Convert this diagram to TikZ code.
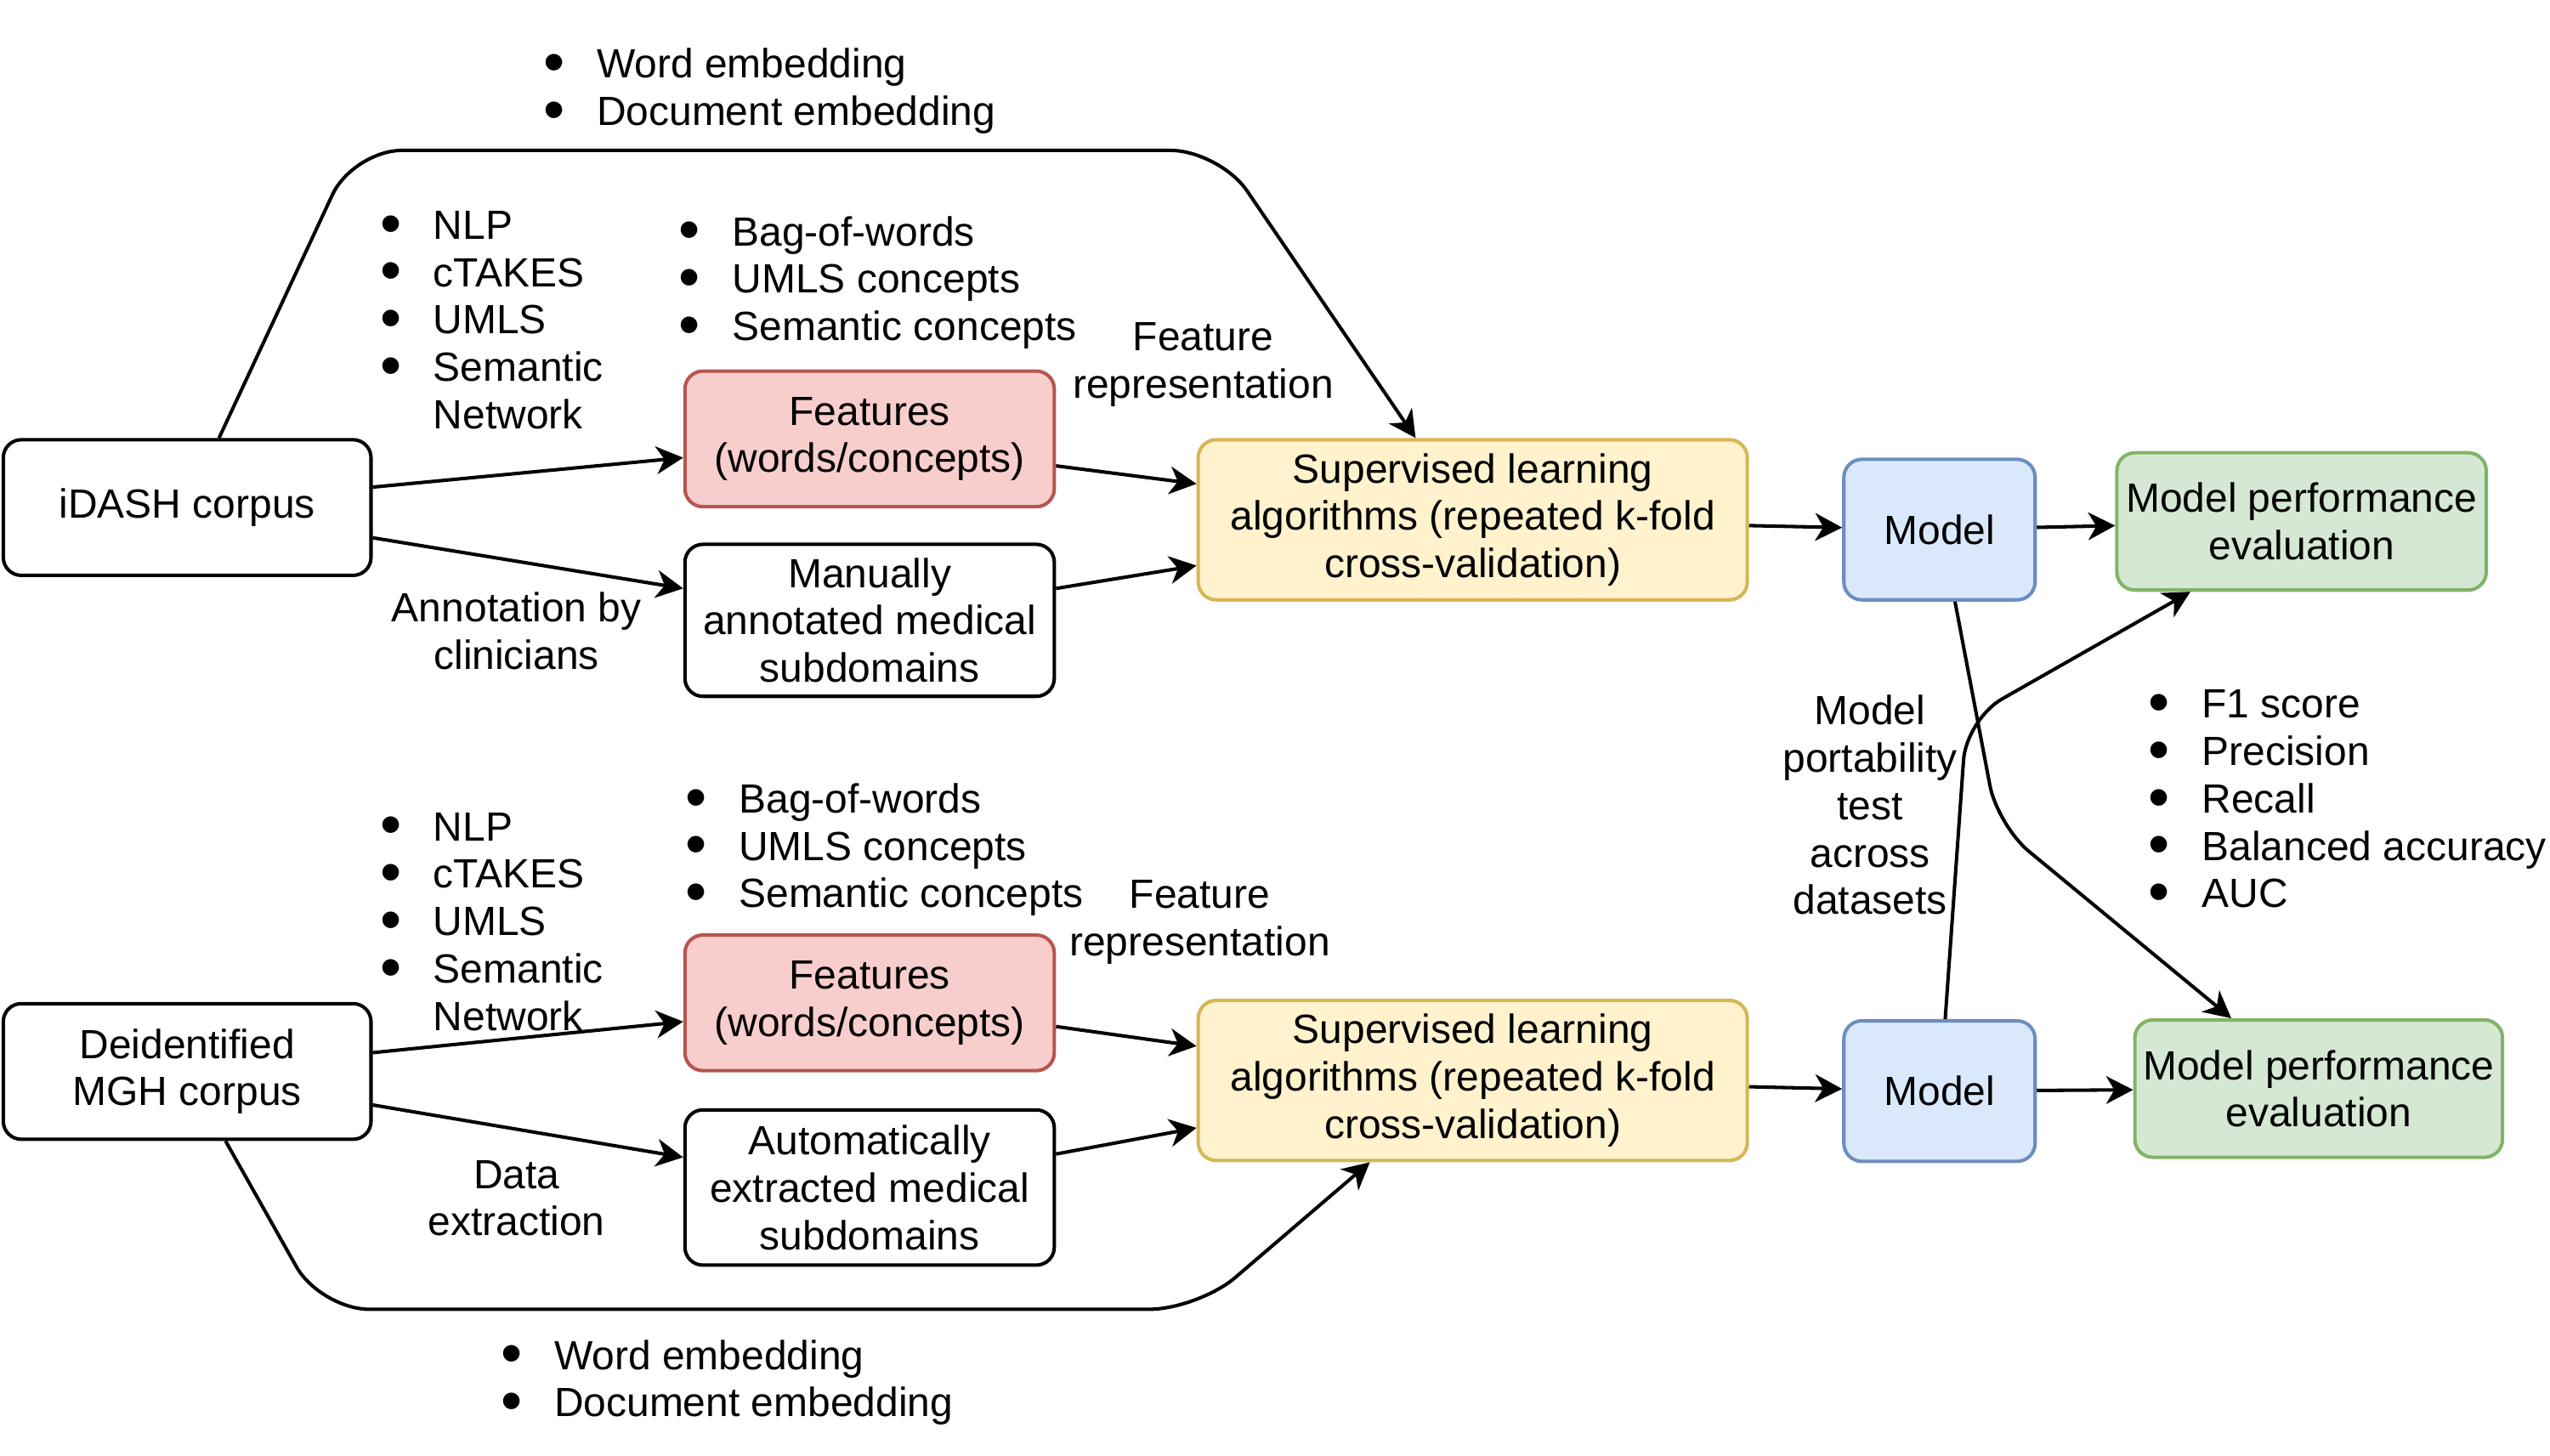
\documentclass[tikz,border=0pt]{standalone}
\usepackage{fontspec}
\setmainfont{Liberation Sans}
\usetikzlibrary{arrows.meta}
\definecolor{redfill}{HTML}{F8CECC}
\definecolor{redline}{HTML}{B85450}
\definecolor{yellowfill}{HTML}{FFF2CC}
\definecolor{yellowline}{HTML}{D6B656}
\definecolor{bluefill}{HTML}{DAE8FC}
\definecolor{blueline}{HTML}{6C8EBF}
\definecolor{greenfill}{HTML}{D5E8D4}
\definecolor{greenline}{HTML}{82B366}
\newcommand{\bul}{\raisebox{-0.12em}{\scalebox{1.5}{\textbullet}}}
\begin{document}
\begin{tikzpicture}[x=0.02cm,y=-0.02cm,
  line width=1.2pt,>={Stealth[length=3.3mm,width=3.4mm,inset=1mm]},
  font=\fontsize{14.2}{16.5}\selectfont,
  main node/.style={rectangle,rounded corners=0.22cm,draw,align=center,inner sep=1pt,minimum width=4.5cm,minimum height=1.66cm},
  feat node/.style={main node,draw=redline,fill=redfill,minimum width=4.52cm},
  learn node/.style={main node,draw=yellowline,fill=yellowfill,minimum width=6.72cm,minimum height=1.96cm},
  model node/.style={main node,draw=blueline,fill=bluefill,minimum width=2.34cm,minimum height=1.72cm},
  eval node/.style={main node,draw=greenline,fill=greenfill,minimum width=4.52cm,minimum height=1.68cm},
  text node/.style={inner sep=0pt,align=center},
  list node/.style={inner sep=0pt,anchor=west}]
  \useasboundingbox (0,0) rectangle (1560,890.3);

  % first dataset
  \node[main node] (1) at (114.5,310.5) {iDASH corpus};
  \node[feat node] (2) at (532,268.5) {Features\\(words/concepts)};
  \node[main node,minimum width=4.52cm,minimum height=1.86cm] (3) at (532,379.5) {Manually\\annotated medical\\subdomains};
  \node[learn node] (4) at (901,318) {Supervised learning\\algorithms (repeated k-fold\\cross-validation)};
  \node[model node] (5) at (1186.5,324) {Model};
  \node[eval node] (6) at (1408,319) {Model performance\\evaluation};

  % second dataset
  \node[main node] (7) at (114.5,655.5) {Deidentified\\MGH corpus};
  \node[feat node] (8) at (532,613.5) {Features\\(words/concepts)};
  \node[main node,minimum width=4.52cm,minimum height=1.9cm] (9) at (532,726.5) {Automatically\\extracted medical\\subdomains};
  \node[learn node] (10) at (901,661) {Supervised learning\\algorithms (repeated k-fold\\cross-validation)};
  \node[model node] (11) at (1186.5,667.5) {Model};
  \node[eval node,minimum width=4.5cm] (12) at (1418.5,666) {Model performance\\evaluation};

  % labels
  \node[list node] (13) at (331.4,56.5) {\begin{tabular}{@{}l@{\hspace{0.39cm}}l@{}}\bul & Word embedding\\ \bul & Document embedding\end{tabular}};
  \node[list node] (14) at (231.4,198.5) {\begin{tabular}{@{}l@{\hspace{0.39cm}}l@{}}\bul & NLP\\ \bul & cTAKES\\ \bul & UMLS\\ \bul & Semantic\\ & Network\end{tabular}};
  \node[list node] (15) at (414.4,173.5) {\begin{tabular}{@{}l@{\hspace{0.39cm}}l@{}}\bul & Bag-of-words\\ \bul & UMLS concepts\\ \bul & Semantic concepts\end{tabular}};
  \node[text node] (16) at (736,223) {Feature\\representation};
  \node[text node] (17) at (316,386) {Annotation by\\clinicians};
  \node[list node] (18) at (231.4,566.5) {\begin{tabular}{@{}l@{\hspace{0.39cm}}l@{}}\bul & NLP\\ \bul & cTAKES\\ \bul & UMLS\\ \bul & Semantic\\ & Network\end{tabular}};
  \node[list node] (19) at (418.4,520.5) {\begin{tabular}{@{}l@{\hspace{0.39cm}}l@{}}\bul & Bag-of-words\\ \bul & UMLS concepts\\ \bul & Semantic concepts\end{tabular}};
  \node[text node] (20) at (734,564) {Feature\\representation};
  \node[text node] (21) at (316,733) {Data\\extraction};
  \node[list node] (22) at (305.4,846.5) {\begin{tabular}{@{}l@{\hspace{0.39cm}}l@{}}\bul & Word embedding\\ \bul & Document embedding\end{tabular}};
  \node[text node] (23) at (1144,492.5) {Model\\portability\\test\\across\\datasets};
  \node[list node] (24) at (1313.4,491.5) {\begin{tabular}{@{}l@{\hspace{0.39cm}}l@{}}\bul & F1 score\\ \bul & Precision\\ \bul & Recall\\ \bul & Balanced accuracy\\ \bul & AUC\end{tabular}};

  \path[->]
   ([yshift=0.25cm]1.east) edge ([yshift=-0.23cm]2.west)
   ([yshift=-0.37cm]1.east) edge ([yshift=0.39cm]3.west)
   ([yshift=-0.33cm]2.east) edge ([yshift=0.44cm]4.west)
   ([yshift=0.39cm]3.east) edge ([yshift=-0.56cm]4.west)
   (4) edge (5)
   (5) edge (6)
   ([yshift=0.23cm]7.east) edge ([yshift=-0.23cm]8.west)
   ([yshift=-0.41cm]7.east) edge ([yshift=0.37cm]9.west)
   ([yshift=-0.29cm]8.east) edge ([yshift=0.42cm]10.west)
   ([yshift=0.41cm]9.east) edge ([yshift=-0.58cm]10.west)
   (10) edge (11)
   (11) edge (12);

  \draw[->,rounded corners=0.6cm] ([xshift=0.39cm]1.north) -- (216,92) -- (746,92) -- ([xshift=-0.7cm]4.north);
  \draw[->,rounded corners=0.6cm] ([xshift=0.47cm]7.south) -- (196,801) -- (733,801) -- ([xshift=-1.26cm]10.south);
  \draw[->,rounded corners=0.5cm] ([xshift=0.19cm]5.south) -- (1222,505) -- ([xshift=-1.07cm]12.north);
  \draw[->,rounded corners=0.5cm] ([xshift=0.07cm]11.north) -- (1203,440) -- ([xshift=-1.36cm]6.south);
\end{tikzpicture}
\end{document}
